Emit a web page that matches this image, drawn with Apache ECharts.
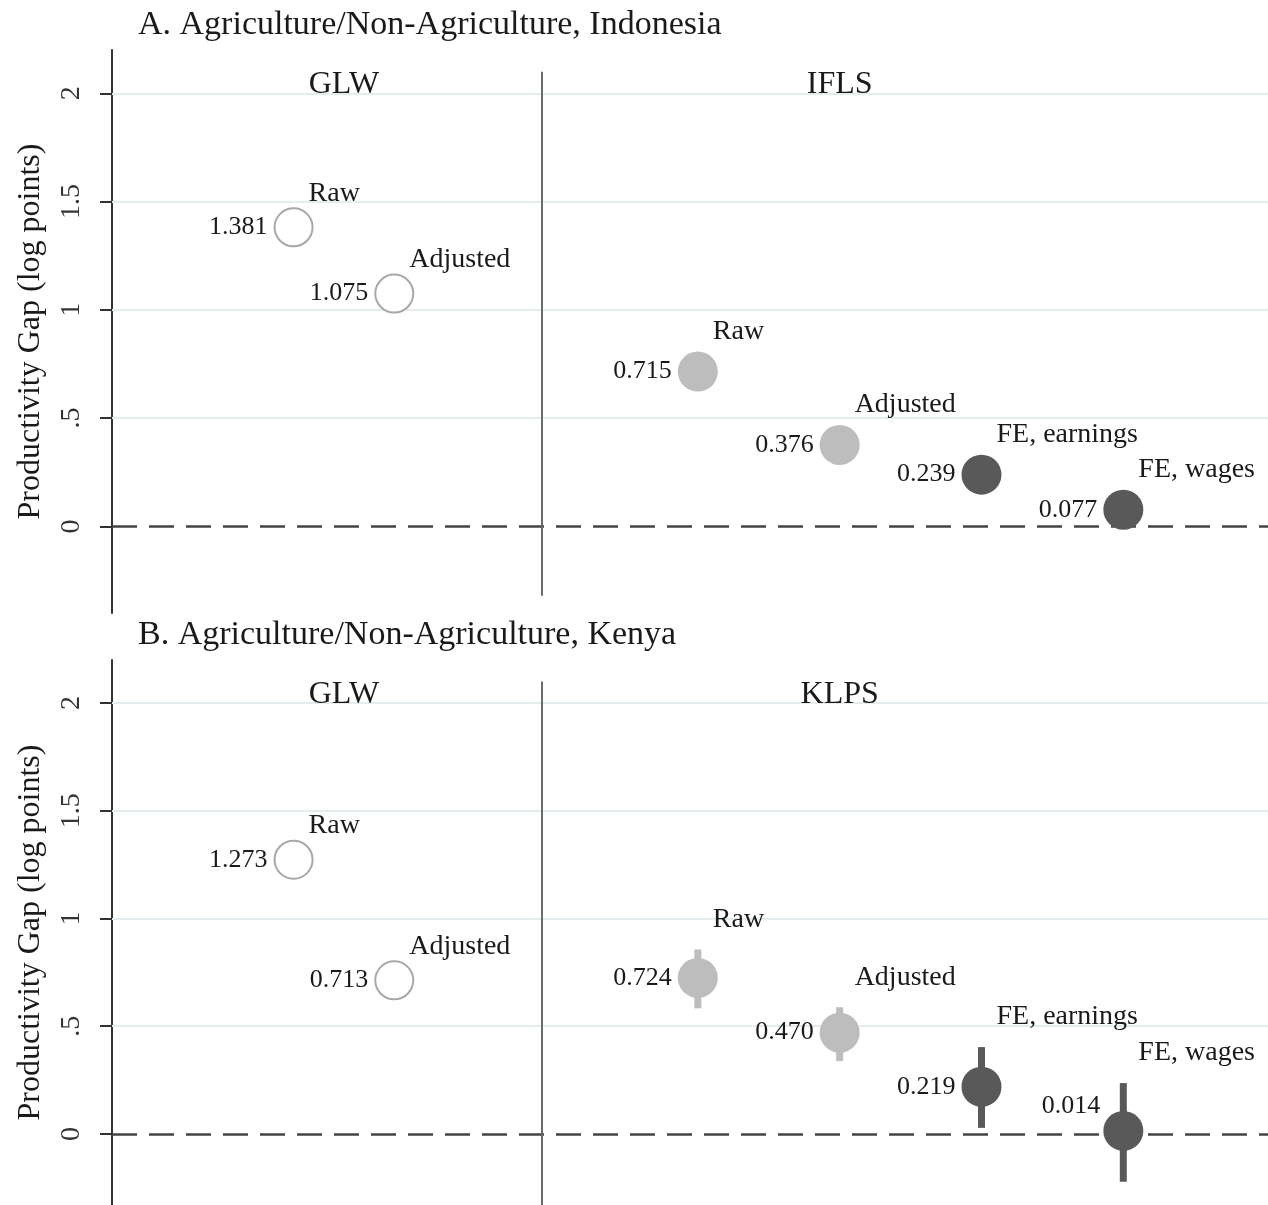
<!DOCTYPE html>
<html>
<head>
<meta charset="utf-8">
<script src="https://cdn.jsdelivr.net/npm/echarts@6/dist/echarts.min.js"></script>
<style>
  html, body { margin: 0; padding: 0; background: #fff; }
  #chart { width: 1268px; height: 1205px; }
</style>
</head>
<body>
<div id="chart"></div>
<script>
// positions of the estimates along the (hidden) x axis
var xPos = [1.28, 1.99, 4.13, 5.13, 6.13, 7.13];
var pointNames = ['Raw', 'Adjusted', 'Raw', 'Adjusted', 'FE, earnings', 'FE, wages'];
var markerKind = ['hollow', 'hollow', 'light', 'light', 'dark', 'dark'];

// panel A: Indonesia
var indonesiaGap = [1.381, 1.075, 0.715, 0.376, 0.239, 0.077];
var indonesiaCiLow = [null, null, null, null, null, null];
var indonesiaCiHigh = [null, null, null, null, null, null];
var indonesiaGroups = ['GLW', 'IFLS'];

// panel B: Kenya
var kenyaGap = [1.273, 0.713, 0.724, 0.470, 0.219, 0.014];
var kenyaCiLow = [null, null, 0.583, 0.338, 0.028, -0.222];
var kenyaCiHigh = [null, null, 0.856, 0.588, 0.403, 0.236];
var kenyaGroups = ['GLW', 'KLPS'];

// y axis ticks
var yTicks = [0, 0.5, 1, 1.5, 2];
var yTickLabels = ['0', '.5', '1', '1.5', '2'];

var FONT = '"Liberation Serif", "DejaVu Serif", serif';
var TXT = '#1a1a1a';
var dividerX = 3.03;

var kindStyle = {
  hollow: { color: '#fff', borderColor: '#a8a8a8', borderWidth: 2, size: 38 },
  light: { color: '#bdbdbd', borderColor: '#bdbdbd', borderWidth: 0, size: 40 },
  dark: { color: '#595959', borderColor: '#595959', borderWidth: 0, size: 40 }
};

function panelSeries(idx, gap, ciLow, ciHigh, groups, yMin, valueShift) {
  var list = [];
  var ax = { xAxisIndex: idx, yAxisIndex: idx };

  // grid lines, zero line and divider
  list.push(Object.assign({
    type: 'scatter', data: [], z: 1, silent: true,
    markLine: {
      z: 1, symbol: 'none', silent: true, animation: false,
      label: { show: false },
      data: [0.5, 1, 1.5, 2].map(function (v) {
        return { yAxis: v, lineStyle: { color: '#e4ecef', width: 2, type: 'solid' } };
      }).concat([
        { yAxis: 0, lineStyle: { color: '#444', width: 2.5, type: [25, 12] } },
        [{ coord: [dividerX, 2.1], lineStyle: { color: '#6a6a6a', width: 2, type: 'solid' } },
         { coord: [dividerX, yMin + 0.08] }]
      ])
    }
  }, ax));

  // confidence intervals
  var ciData = [];
  gap.forEach(function (v, i) {
    if (ciLow[i] != null) ciData.push([xPos[i], ciLow[i], ciHigh[i], markerKind[i]]);
  });
  list.push(Object.assign({
    type: 'custom', z: 2, data: ciData,
    renderItem: function (params, api) {
      var lo = api.coord([api.value(0), api.value(1)]);
      var hi = api.coord([api.value(0), api.value(2)]);
      var kind = ciData[params.dataIndex][3];
      return {
        type: 'line',
        shape: { x1: lo[0], y1: lo[1], x2: hi[0], y2: hi[1] },
        style: { stroke: kindStyle[kind].color, lineWidth: 7 }
      };
    }
  }, ax));

  // estimates with value labels
  list.push(Object.assign({
    type: 'scatter', z: 3,
    data: gap.map(function (v, i) {
      var k = kindStyle[markerKind[i]];
      var item = {
        value: [xPos[i], v],
        symbolSize: k.size,
        itemStyle: { color: k.color, borderColor: k.borderColor, borderWidth: k.borderWidth, opacity: 1 }
      };
      if (valueShift[i]) item.label = { offset: valueShift[i] };
      return item;
    }),
    label: {
      show: true, position: 'left', distance: 6,
      formatter: function (p) { return p.value[1].toFixed(3); },
      fontFamily: FONT, fontSize: 26, color: TXT, textBorderWidth: 0
    }
  }, ax));

  // point names, above and to the right
  list.push(Object.assign({
    type: 'scatter', z: 4, symbolSize: 0, silent: true,
    itemStyle: { color: 'transparent' },
    data: gap.map(function (v, i) {
      var anchor = ciHigh[i] != null ? ciHigh[i] : v;
      var dy = markerKind[i] === 'hollow' ? -34 : (ciHigh[i] != null ? -30 : -40);
      return { value: [xPos[i], anchor], name: pointNames[i], label: { offset: [15, dy] } };
    }),
    label: {
      show: true, position: 'inside', align: 'left', verticalAlign: 'middle',
      formatter: '{b}', fontFamily: FONT, fontSize: 28, color: TXT,
      textBorderWidth: 0, opacity: 1
    }
  }, ax));

  // group headers
  list.push(Object.assign({
    type: 'scatter', z: 4, symbolSize: 0, silent: true,
    itemStyle: { color: 'transparent' },
    data: [
      { value: [(xPos[0] + xPos[1]) / 2, 2.04], name: groups[0] },
      { value: [xPos[3], 2.04], name: groups[1] }
    ],
    label: {
      show: true, position: 'inside', formatter: '{b}',
      fontFamily: FONT, fontSize: 32, color: TXT, textBorderWidth: 0, opacity: 1
    }
  }, ax));

  return list;
}

function yAxisFor(idx, yMin) {
  return {
    gridIndex: idx, type: 'value', min: yMin, max: 2.2,
    name: 'Productivity Gap (log points)', nameLocation: 'middle', nameGap: 65, nameRotate: 90,
    nameTextStyle: { fontFamily: FONT, fontSize: 32, color: TXT },
    axisLine: { show: true, lineStyle: { color: '#333', width: 2 } },
    axisTick: { show: true, customValues: yTicks, length: 12, lineStyle: { color: '#333', width: 2 } },
    axisLabel: {
      customValues: yTicks, rotate: 90, margin: 26,
      formatter: function (v) {
        var j = yTicks.indexOf(v);
        return j >= 0 ? yTickLabels[j] : '';
      },
      fontFamily: FONT, fontSize: 28, color: '#333'
    },
    splitLine: { show: false }
  };
}

function xAxisFor(idx) {
  return { gridIndex: idx, type: 'value', min: 0, max: 8.15, show: false };
}

var chart = echarts.init(document.getElementById('chart'));
chart.setOption({
  animation: false,
  backgroundColor: '#fff',
  title: [
    { text: 'A. Agriculture/Non-Agriculture, Indonesia', left: 133, top: 3,
      textStyle: { fontFamily: FONT, fontSize: 34, fontWeight: 'normal', color: TXT } },
    { text: 'B. Agriculture/Non-Agriculture, Kenya', left: 133, top: 613,
      textStyle: { fontFamily: FONT, fontSize: 34, fontWeight: 'normal', color: TXT } }
  ],
  grid: [
    { left: 112, right: 0, top: 50, height: 563 },
    { left: 112, right: 0, top: 660, height: 546 }
  ],
  xAxis: [xAxisFor(0), xAxisFor(1)],
  yAxis: [yAxisFor(0, -0.4), yAxisFor(1, -0.33)],
  series: panelSeries(0, indonesiaGap, indonesiaCiLow, indonesiaCiHigh, indonesiaGroups, -0.4, {})
    .concat(panelSeries(1, kenyaGap, kenyaCiLow, kenyaCiHigh, kenyaGroups, -0.41, { 5: [3, -25] }))
});
</script>
</body>
</html>
